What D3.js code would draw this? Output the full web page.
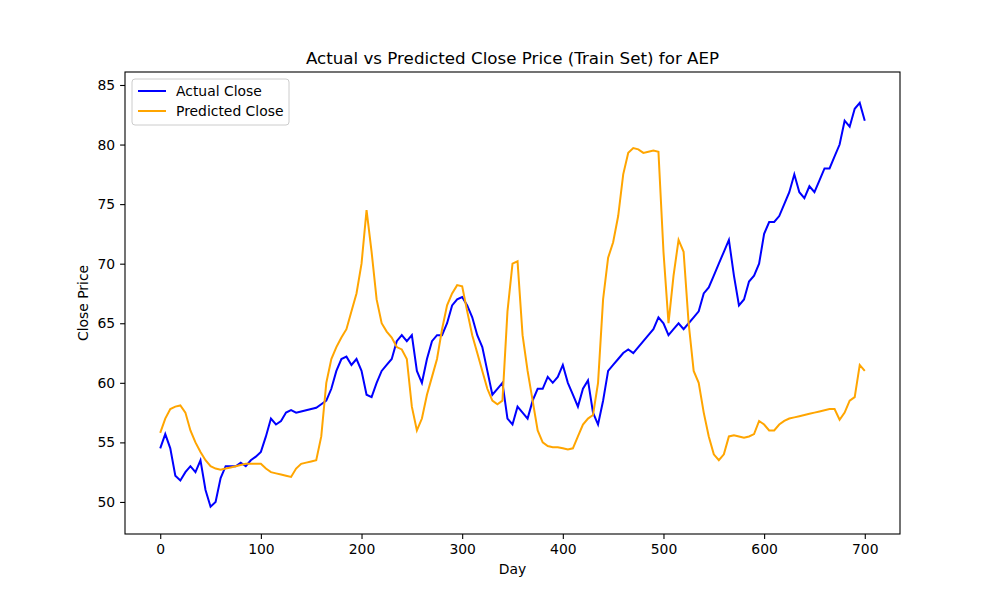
<!DOCTYPE html>
<html>
<head>
<meta charset="utf-8">
<script src="https://cdn.jsdelivr.net/npm/d3@7"></script>
<style>
  body { margin: 0; background: #fff; }
  text { font-family: "DejaVu Sans", sans-serif; }
</style>
</head>
<body>
<svg id="chart" width="1000" height="600"></svg>
<script>
// values sampled every 5 days
var step = 5;
var actualClose = [54.5,55.7,54.5,52.2,51.8,52.5,53,52.5,53.5,51,49.6,50,52,53,53,53,53.3,53,53.5,53.8,
  54.2,55.5,57,56.5,56.8,57.5,57.7,57.5,57.6,57.7,57.8,57.9,58.2,58.5,59.5,61,62,62.2,61.5,62,
  61,59,58.8,60,61,61.5,62,63.5,64,63.5,64,61,60,62,63.5,64,64,65,66.5,67,
  67.2,66.5,65.5,64,63,61,59,59.5,60,57,56.5,58,57.5,57,58.5,59.5,59.5,60.5,60,60.5,
  61.5,60,59,58,59.5,60.2,57.5,56.5,58.5,61,61.5,62,62.5,62.8,62.5,63,63.5,64,64.5,65.5,
  65,64,64.5,65,64.5,65,65.5,66,67.5,68,69,70,71,72,69,66.5,67,68.5,69,70,
  72.5,73.5,73.5,74,75,76,77.5,76,75.5,76.5,76,77,78,78,79,80,82,81.5,83,83.5,82];
var predictedClose = [55.8,57,57.8,58,58.1,57.5,56,55,54.2,53.5,53,52.8,52.7,52.8,52.9,53,53.1,53.2,53.2,53.2,
  53.2,52.8,52.5,52.4,52.3,52.2,52.1,52.8,53.2,53.3,53.4,53.5,55.5,60,62,63,63.8,64.5,66,67.5,
  70,74.5,71,67,65,64.3,63.8,63,62.8,62,58,56,57,59,60.5,62,64.5,66.5,67.5,68.2,
  68.1,66,64,62.5,61,59.5,58.5,58.2,58.5,66,70,70.2,64,61,58.5,56,55,54.7,54.6,54.6,
  54.5,54.4,54.5,55.5,56.5,57,57.3,60,67,70.5,71.8,74,77.5,79.3,79.7,79.6,79.3,79.4,79.5,79.4,
  71,65,69,72,71,65,61,60,57.5,55.5,54,53.5,54,55.5,55.6,55.5,55.4,55.5,55.7,56.8,
  56.5,56,56,56.5,56.8,57,57.1,57.2,57.3,57.4,57.5,57.6,57.7,57.8,57.8,56.9,57.5,58.5,58.8,61.5,61];
var xTicks = [0,100,200,300,400,500,600,700];
var yTicks = [50,55,60,65,70,75,80,85];
var seriesNames = ["Actual Close","Predicted Close"];
var seriesColors = ["#0000ff","#ffa500"];

var mLeft = 125, mRight = 900, mTop = 72, mBottom = 534;
var svg = d3.select("#chart");
var x = d3.scaleLinear().domain([-35, 735]).range([mLeft, mRight]);
var y = d3.scaleLinear().domain([47.31, 86.09]).range([mBottom, mTop]);

var xAxis = svg.append("g").attr("transform", "translate(0," + mBottom + ")")
  .call(d3.axisBottom(x).tickValues(xTicks).tickSize(4.9).tickPadding(4.9));
var yAxis = svg.append("g").attr("transform", "translate(" + mLeft + ",0)")
  .call(d3.axisLeft(y).tickValues(yTicks).tickSize(4.9).tickPadding(4.9));
[xAxis, yAxis].forEach(function (a) {
  a.select(".domain").remove();
  a.selectAll("text").attr("font-size", 13.9).attr("fill", "#000").attr("font-family", "DejaVu Sans");
  a.selectAll("line").attr("stroke", "#000").attr("stroke-width", 1.1);
});

var line = d3.line().x(function (d, i) { return x(i * step); }).y(function (d) { return y(d); });
[actualClose, predictedClose].forEach(function (s, k) {
  svg.append("path").datum(s).attr("d", line).attr("fill", "none")
    .attr("stroke", seriesColors[k]).attr("stroke-width", 2);
});

svg.append("rect").attr("x", mLeft).attr("y", mTop).attr("width", mRight - mLeft).attr("height", mBottom - mTop)
  .attr("fill", "none").attr("stroke", "#000").attr("stroke-width", 1.1);

svg.append("text").attr("x", (mLeft + mRight) / 2).attr("y", 64).attr("text-anchor", "middle")
  .attr("font-size", 16.7).text("Actual vs Predicted Close Price (Train Set) for AEP");
svg.append("text").attr("x", (mLeft + mRight) / 2).attr("y", 574).attr("text-anchor", "middle")
  .attr("font-size", 13.9).text("Day");
svg.append("text").attr("transform", "translate(88," + (mTop + mBottom) / 2 + ") rotate(-90)")
  .attr("text-anchor", "middle").attr("font-size", 13.9).text("Close Price");

// legend
var lg = svg.append("g").attr("transform", "translate(132,79)");
lg.append("rect").attr("width", 157).attr("height", 46).attr("rx", 3)
  .attr("fill", "#fff").attr("fill-opacity", 0.8).attr("stroke", "#ccc");
seriesNames.forEach(function (n, i) {
  var yy = 12 + i * 20;
  lg.append("line").attr("x1", 6).attr("x2", 34).attr("y1", yy).attr("y2", yy)
    .attr("stroke", seriesColors[i]).attr("stroke-width", 2);
  lg.append("text").attr("x", 44).attr("y", yy + 5).attr("font-size", 13.9).text(n);
});
</script>
</body>
</html>
